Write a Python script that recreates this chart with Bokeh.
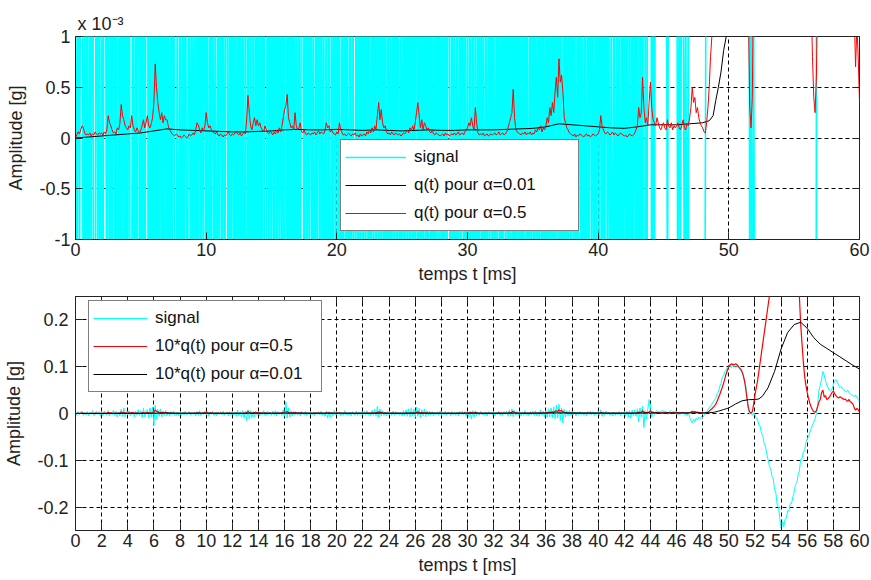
import numpy as np
from bokeh.plotting import figure
from bokeh.layouts import column
from bokeh.models import (FixedTicker, CustomJSTickFormatter, Legend, LegendItem,
                          LinearAxis, Range1d)
from bokeh.embed import file_html
from bokeh.resources import INLINE

FONT = "Liberation Sans"
FS = "18px"
FS_LEG = "17px"

# ---------------- data ----------------
DT = 0.1  # ms, sampling step of the signal and of q(t) alpha=0.5

# signal, in units of 1e-3 g, one row per ms
signal_mg = [
    2, -3, 4, -2, 3, 5, -4, 2, -3, 4,
    -5, 3, -2, 6, -4, -3, 5, -2, 4, -6,
    3, -4, 5, 2, -3, 6, -5, 3, -2, 7,
    -4, 5, -8, 3, -5, 9, -6, 12, -7, 4,
    -3, 6, -5, -2, 4, -7, 5, -3, 8, -4,
    6, -9, 11, -7, 5, 8, -10, 12, -8, 14,
    -25, 18, -12, 9, -6, 10, -8, 5, -4, 7,
    -5, 3, -6, 4, -2, 5, -3, -4, 3, -5,
    2, -4, 3, -3, 5, -2, -1, 4, -3, 2,
    -2, 3, -5, 4, -3, 6, -4, 3, -2, 5,
    -3, 4, -6, 3, -2, 5, -4, 2, -5, 3,
    -2, 4, -3, 5, -4, 2, 3, -5, 4, -3,
    5, -4, 3, -6, 7, -5, 4, -8, 6, -10,
    5, -15, 8, -12, 6, -9, 4, -7, 5, -3,
    4, -5, 3, -2, 6, -4, -3, 5, -2, 3,
    -4, 5, -3, 6, -5, 4, -2, 3, -4, 8,
    -6, 25, -10, 12, -8, 6, -5, 4, -3, 2,
    -4, 3, -5, 4, 2, -3, 5, -4, 3, -2,
    4, -3, 2, -5, 3, -2, 4, -3, 5, -4,
    2, -6, 5, -10, 4, -8, 3, -5, 6, -3,
    4, -2, 3, -5, 2, -4, 6, -3, 2, -4,
    3, -5, 4, -2, -3, 5, -4, 3, -2, 4,
    -3, 5, -4, 6, -3, 2, -5, 7, -4, 9,
    -6, 15, -8, 10, -5, 6, -4, 3, -5, 4,
    -3, 2, -4, 5, -3, 4, -2, 3, -4, 2,
    -5, 6, -4, 8, -6, 10, -7, 12, -5, 9,
    -8, 14, -6, 11, -9, 8, -5, 10, -7, 6,
    -4, 5, -3, 4, -5, 3, -2, 4, -3, 5,
    -4, 2, -3, 5, -4, 3, 2, -5, 4, -3,
    2, -4, 3, -5, 4, -2, 5, -3, 4, -6,
    3, -7, 5, -12, 6, -8, 4, -5, 3, -4,
    5, -3, 2, -4, 3, -5, 4, -2, 3, -3,
    4, -5, 3, -2, 5, -4, 3, -3, 4, -2,
    5, -6, 8, -5, 10, -7, 6, -4, 5, -3,
    4, -5, 3, -4, 6, -3, 2, -5, 4, -3,
    5, -4, 6, -5, 3, -6, 8, -4, 5, -7,
    6, -8, 10, -7, 12, -9, 14, -11, 18, -10,
    20, -15, 12, -20, 9, -8, 6, -5, 7, -4,
    5, -3, 4, -5, 3, -2, 4, -3, 2, -4,
    3, -5, 4, -2, 5, -3, 4, -4, 3, -2,
    5, -4, 8, -6, 4, -3, 5, -2, 3, -4,
    2, -5, 3, -4, 2, -3, 4, -5, 3, -2,
    4, -6, 5, -8, 6, -10, 7, -5, 8, -6,
    10, -18, 12, -8, 15, -30, 6, -12, 9, 30,
    16, -8, 5, -2, 4, 6, 3, 5, 4, 7,
    3, 5, 4, -2, 3, 5, 6, 4, 3, 5,
    4, -3, 2, -1.5, 3, 2, -2, 2, -4, 1.5,
    -8, -15, -20, -12, -18, -10, -14, -8, -11, -6,
    -9, -4, -0.5, 4, 8, 12, 16, 20, 25, 29,
    33, 42, 46, 57, 64, 78, 80, 90, 92, 99,
    100, 104, 98, 105, 100, 99, 102, 98, 97, 92,
    88, 80, 70, 58, 30, 8, -2, 2, -3, 1,
    -3, -10, -13, -24, -28, -42, -48, -64, -70, -86,
    -98, -112, -118, -134, -140, -162, -170, -195, -200, -224,
    -245, -232, -242, -226, -224, -208, -207, -192, -192, -178,
    -168, -152, -148, -132, -122, -98, -97, -82, -78, -62,
    -55, -48, -40, -32, -25, -18, -12, 0.3, 20, 50,
    60, 75, 90, 82, 70, 60, 55, 50, 48, 52,
    62, 70, 72, 68, 60, 55, 58, 52, 50, 48,
    46, 50, 44, 42, 40, 38, 36, 40, 34, 30,
    26,
]

# q(t) for alpha = 0.5, in units of 1e-5 g, same time base as the signal
q05_units = [
    0, 3, 6, 4, 8, 12, 10, 5, 3, 4,
    3, 5, 2, 4, 3, 6, 4, 3, 5, 4,
    5, 3, 6, 4, 8, 22, 15, 12, 8, 5,
    6, 4, 10, 8, 15, 33, 22, 18, 12, 10,
    8, 12, 10, 22, 12, 8, 6, 10, 7, 5,
    8, 12, 18, 10, 15, 22, 12, 10, 14, 20,
    35, 73, 50, 35, 25, 18, 25, 15, 22, 18,
    18, 12, 8, 6, 4, 3, 2, 4, 3, 1,
    2, 0, 1, 3, 2, 0, 1, 4, 2, 3,
    5, 3, 8, 15, 13, 8, 5, 10, 7, 12,
    25, 15, 10, 12, 8, 6, 5, 4, 6, 3,
    2, 4, 3, 1, 3, 2, 4, 6, 3, 2,
    4, 3, 5, 6, 4, 3, 5, 2, 4, 6,
    4, 18, 42, 25, 12, 8, 15, 20, 12, 18,
    12, 15, 10, 8, 6, 12, 8, 5, 4, 7,
    5, 3, 6, 4, 8, 5, 10, 6, 12, 20,
    28, 32, 43, 20, 15, 10, 12, 8, 25, 12,
    8, 10, 15, 6, 5, 8, 4, 3, 5, 4,
    3, 5, 4, 6, 3, 5, 7, 4, 6, 5,
    4, 8, 15, 10, 12, 6, 8, 5, 4, 3,
    6, 4, 15, 8, 5, 3, 4, 2, 3, 5,
    3, 2, 4, 3, 5, 2, 3, 1, 4, 2,
    3, 4, 2, 6, 4, 8, 5, 10, 6, 12,
    8, 22, 35, 18, 28, 15, 10, 12, 6, 4,
    5, 3, 6, 4, 3, 5, 4, 3, 4, 2,
    3, 5, 4, 6, 8, 5, 10, 7, 12, 8,
    15, 25, 35, 22, 10, 18, 8, 15, 12, 8,
    10, 6, 5, 8, 4, 3, 5, 4, 3, 2,
    3, 4, 2, 5, 3, 4, 2, 3, 4, 3,
    5, 3, 4, 6, 3, 4, 5, 3, 6, 8,
    10, 15, 12, 20, 12, 8, 30, 15, 5, 3,
    4, 3, 5, 2, 3, 4, 2, 3, 4, 3,
    4, 5, 3, 4, 6, 3, 4, 5, 3, 4,
    6, 10, 15, 20, 25, 48, 20, 8, 6, 5,
    4, 3, 5, 4, 6, 3, 5, 4, 6, 3,
    5, 4, 8, 6, 10, 8, 12, 6, 10, 8,
    12, 20, 15, 30, 22, 35, 25, 45, 60, 40,
    78, 55, 62, 45, 20, 15, 10, 8, 5, 4,
    3, 2, 4, 1, 3, 2, 4, 3, 2, 1,
    3, 4, 2, 3, 1, 2, 4, 3, 2, 3,
    4, 8, 22, 12, 8, 5, 4, 6, 5, 3,
    4, 6, 3, 5, 4, 2, 3, 5, 4, 3,
    2, 3, 1, 2, 4, 3, 2, 3, 5, 8,
    12, 30, 20, 25, 60, 30, 15, 20, 12, 35,
    55, 30, 18, 15, 12, 20, 15, 10, 8, 12,
    15, 10, 8, 18, 12, 10, 15, 8, 12, 10,
    12, 15, 10, 8, 12, 18, 10, 8, 14, 12,
    20, 30, 50, 35, 40, 25, 30, 20, 15, 12,
    10, 6, 5, 15, 30, 50, 80, 100, 130, 160,
    200, 260, 330, 400, 480, 560, 650, 750, 850, 930,
    1000, 1040, 1060, 1050, 1040, 1060, 1050, 1020, 980, 950,
    900, 820, 700, 520, 300, 120, 30, 10, 40, 200,
    400, 550, 700, 900, 1100, 1300, 1500, 1700, 1900, 2100,
    2300, 2500, 2800, 3100, 3400, 3700, 4000, 4300, 4500, 4700,
    4900, 5100, 5200, 5300, 5250, 5200, 5100, 4900, 4700, 4500,
    4200, 3800, 3400, 3000, 2500, 1900, 1500, 1100, 800, 600,
    450, 320, 220, 140, 80, 40, 25, 60, 150, 250,
    300, 450, 500, 350, 380, 300, 320, 350, 400, 450,
    480, 420, 380, 350, 330, 360, 340, 320, 300, 310,
    280, 260, 300, 250, 230, 200, 120, 70, 110, 80,
    35,
]

# q(t) for alpha = 0.01, in units of 1e-5 g, with its own time base (ms)
t_q001 = [0, 1, 2, 3, 4, 5, 6, 7, 8, 9, 10, 11, 12, 13, 14, 15, 16, 17, 18, 19,
          20, 21, 22, 23, 24, 25, 26, 27, 28, 29, 30, 31, 32, 33, 34, 35, 36, 37,
          38, 39, 40, 41, 42, 43, 44, 45, 46, 47, 48, 48.5, 48.8, 49.0, 49.2,
          49.4, 49.6, 49.8, 50.0, 50.5, 51, 51.5, 52, 52.3, 52.6, 53, 53.5, 54,
          54.5, 55, 55.5, 56, 56.5, 57, 57.5, 58, 58.5, 59, 59.5, 60]
q001_units = [0, 1, 2, 3, 4, 5, 7, 9, 8, 7.5, 7, 6.5, 6, 6, 6.5, 7, 8, 8.5, 8, 8,
              8.5, 8, 7.5, 8, 7.5, 7, 7.5, 8, 7.5, 7.5, 8, 8, 8, 8.5, 9, 9.5, 11, 14,
              13, 12, 11, 10, 9.5, 11, 13, 13, 13, 14, 15, 17, 22, 37, 50,
              65, 86, 100, 120, 200, 270, 295, 300, 310, 380, 550, 900, 1380,
              1730, 1900, 1950, 1820, 1620, 1480, 1390, 1300, 1210, 1120, 1030, 950]

x_ticks_top = [0, 10, 20, 30, 40, 50, 60]
y_ticks_top = [-1, -0.5, 0, 0.5, 1]
x_ticks_bot = list(range(0, 61, 2))
y_ticks_bot = [-0.2, -0.1, 0, 0.1, 0.2]

labels_top = ["signal", "q(t) pour \u03b1=0.01", "q(t) pour \u03b1=0.5"]
labels_bot = ["signal", "10*q(t) pour \u03b1=0.5", "10*q(t) pour \u03b1=0.01"]
scale_text = "x 10\u207b\u00b3"

# ---------------- derived arrays ----------------
t = np.round(np.arange(len(signal_mg)) * DT, 1)
sig_mg = np.array(signal_mg, dtype=float)            # 1e-3 g
q05_mg = np.array(q05_units, dtype=float) / 100.0    # 1e-3 g
q001_mg = np.array(q001_units, dtype=float) / 100.0  # 1e-3 g

AX = "#222222"
fmt = CustomJSTickFormatter(code="return tick.toString();")


def style(p, xt, yt, ylab_standoff, extra_above):
    p.background_fill_color = "white"
    p.border_fill_color = "white"
    p.outline_line_color = AX
    p.outline_line_alpha = 1.0
    p.outline_line_width = 1
    for ax, tk in ((p.xaxis[0], xt), (p.yaxis[0], yt)):
        ax.ticker = FixedTicker(ticks=tk)
        ax.formatter = fmt
        ax.major_tick_in = 7
        ax.major_tick_out = 0
        ax.minor_tick_line_color = None
        ax.axis_line_color = AX
        ax.major_tick_line_color = AX
        ax.major_label_text_font = FONT
        ax.major_label_text_font_size = FS
        ax.major_label_text_color = "#222222"
        ax.axis_label_text_font = FONT
        ax.axis_label_text_font_size = FS
        ax.axis_label_text_font_style = "normal"
        ax.axis_label_text_color = "#222222"
    p.xaxis.major_label_standoff = 3
    p.xaxis.axis_label_standoff = 5
    p.yaxis.major_label_standoff = ylab_standoff
    p.yaxis.axis_label_standoff = 10
    p.xgrid.ticker = FixedTicker(ticks=xt)
    p.ygrid.ticker = FixedTicker(ticks=yt)
    for g in (p.xgrid[0], p.ygrid[0]):
        g.grid_line_color = "black"
        g.grid_line_dash = "4 3"
        g.grid_line_width = 1
        g.grid_line_alpha = 1.0
    places = [("right", yt)] + ([("above", xt)] if extra_above else [])
    for place, tk in places:
        a = LinearAxis(ticker=FixedTicker(ticks=tk), formatter=fmt,
                       major_label_text_font_size="1px", major_label_text_color=None,
                       major_label_standoff=0,
                       major_tick_in=7, major_tick_out=0,
                       minor_tick_line_color=None, axis_line_color=None,
                       major_tick_line_color=AX)
        p.add_layout(a, place)


def make_legend(items, loc, glyph_w, label_w):
    lg = Legend(items=items, location=loc)
    lg.border_line_color = "black"
    lg.border_line_width = 1
    lg.background_fill_color = "white"
    lg.background_fill_alpha = 1.0
    lg.label_text_font = FONT
    lg.label_text_font_size = FS_LEG
    lg.label_text_color = "#111111"
    lg.glyph_width = glyph_w
    lg.glyph_height = 26
    lg.label_height = 26
    lg.label_width = label_w
    lg.label_standoff = 8
    lg.spacing = 2
    lg.padding = 4
    lg.margin = 0
    return lg


# ---------------- top panel ----------------
p1 = figure(width=871, height=290, x_range=Range1d(0, 60), y_range=Range1d(-1, 1),
            output_backend="svg", toolbar_location=None,
            min_border_left=75, min_border_right=12, min_border_top=36, min_border_bottom=51)
p1.xaxis.axis_label = "temps t [ms]"
p1.yaxis.axis_label = "Amplitude [g]"
style(p1, x_ticks_top, y_ticks_top, 5, False)
p1.title.text = scale_text
p1.title.align = "left"
p1.title.offset = 2
p1.title.standoff = 6
p1.title.text_font = FONT
p1.title.text_font_size = FS
p1.title.text_font_style = "normal"
p1.title.text_color = "#222222"

r1s = p1.line(t, sig_mg, line_color="#00FFFF", line_width=1.6)
r1b = p1.line(t_q001, q001_mg, line_color="black", line_width=1)
r1r = p1.line(t, q05_mg, line_color="#FF0000", line_width=1)

p1.add_layout(make_legend([LegendItem(label=labels_top[0], renderers=[r1s]),
                           LegendItem(label=labels_top[1], renderers=[r1b]),
                           LegendItem(label=labels_top[2], renderers=[r1r])],
                          (265, 8), 61, 160))

# ---------------- bottom panel ----------------
p2 = figure(width=871, height=290, x_range=Range1d(0, 60), y_range=Range1d(-0.25, 0.25),
            output_backend="svg", toolbar_location=None,
            min_border_left=74, min_border_right=8, min_border_top=6, min_border_bottom=50)
p2.xaxis.axis_label = "temps t [ms]"
p2.yaxis.axis_label = "Amplitude [g]"
style(p2, x_ticks_bot, y_ticks_bot, 7, True)

r2s = p2.line(t, sig_mg / 1000.0, line_color="#00FFFF", line_width=1)
r2r = p2.line(t, 10 * q05_mg / 1000.0, line_color="#FF0000", line_width=1.2)
r2b = p2.line(t_q001, 10 * q001_mg / 1000.0, line_color="black", line_width=1)

p2.add_layout(make_legend([LegendItem(label=labels_bot[0], renderers=[r2s]),
                           LegendItem(label=labels_bot[1], renderers=[r2r]),
                           LegendItem(label=labels_bot[2], renderers=[r2b])],
                          (13, 138), 54, 162))

layout = column(p1, p2, spacing=0)
open("out.html", "w").write(file_html(layout, INLINE))
